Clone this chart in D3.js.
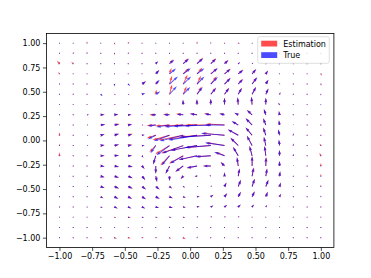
<!DOCTYPE html>
<html>
<head>
<meta charset="utf-8">
<script src="https://cdnjs.cloudflare.com/ajax/libs/d3/7.8.5/d3.min.js"></script>
<style>
body { margin: 0; background: #fff; }
text { font-family: "DejaVu Sans", sans-serif; }
</style>
</head>
<body>
<div id="plot"></div>
<script>
// grid coordinates (20 x 20)
var gridX = [-1.000,-0.895,-0.789,-0.684,-0.579,-0.474,-0.368,-0.263,-0.158,-0.053,0.053,0.158,0.263,0.368,0.474,0.579,0.684,0.789,0.895,1.000];
var gridY = [1.000,0.895,0.789,0.684,0.579,0.474,0.368,0.263,0.158,0.053,-0.053,-0.158,-0.263,-0.368,-0.474,-0.579,-0.684,-0.789,-0.895,-1.000];
var tickVals = [-1.00,-0.75,-0.50,-0.25,0.00,0.25,0.50,0.75,1.00];
var seriesNames = ["Estimation", "True"];

// True field, rows top (y=1) to bottom (y=-1)
var trueU = [
[0,0,0,0,0,0,0,0,0,0,0,0,0,0,0,0,0,0,0,0],
[0,0,0,0,0,0,0,0,0,0,0,0,0,0,0,0,0,0,0,0],
[0,0,0,0,0,0,0,.02,.038,.045,.048,.042,.03,.015,.01,0,0,0,0,0],
[0,0,0,0,0,0,.005,.028,.05,.058,.056,.054,.048,.04,.033,.018,.005,0,0,0],
[0,0,0,0,0,.015,.03,.03,.064,.06,.056,.054,.048,.038,.04,.02,.005,0,0,0],
[0,0,0,.015,.01,.01,.025,.035,.056,.054,.043,.041,.036,.028,.03,.02,.008,0,0,0],
[0,0,0,.005,.01,.01,.01,.01,.005,0,0,0,0,-.005,-.005,0,-.01,0,0,0],
[0,0,.015,.03,.03,.025,.005,-.04,-.045,-.05,-.055,-.05,-.04,-.03,-.04,-.015,-.005,0,0,0],
[0,0,.01,.035,.035,.03,.01,-.06,-.1,-.14,-.18,-.2,-.15,-.05,-.05,-.02,-.005,0,0,0],
[0,0,.01,.03,.035,.03,.02,-.06,-.12,-.18,-.22,-.24,-.18,-.08,-.05,-.02,-.01,0,0,0],
[0,0,.01,.03,.035,.03,.02,-.04,-.1,-.16,-.2,-.2,-.15,-.06,-.04,-.015,-.005,0,0,0],
[0,0,.005,.03,.035,.03,.01,-.02,-.06,-.1,-.14,-.12,-.08,-.04,-.02,-.01,0,0,0,0],
[0,0,.005,.03,.035,.035,.02,0,-.03,-.06,-.08,-.06,-.03,-.01,0,0,0,0,0,0],
[0,0,.005,.03,.035,.035,.025,.01,0,-.02,-.02,-.01,0,.01,.01,.01,.005,0,0,0],
[0,0,.01,.03,.035,.035,.03,.03,.02,.015,.01,.01,.015,.02,.02,.02,.01,0,0,0],
[0,0,.005,.02,.03,.03,.03,.03,.025,.02,.02,.02,.02,.02,.02,.015,.01,0,0,0],
[0,0,0,.015,.025,.025,.025,.025,.025,.02,.02,.02,.02,.02,.015,.01,.005,0,0,0],
[0,0,0,0,.01,.015,.015,.015,.015,.015,.01,.01,.01,.01,.005,0,0,0,0,0],
[0,0,0,0,0,0,0,0,0,0,0,0,0,0,0,0,0,0,0,0],
[0,0,0,0,0,0,0,0,0,0,0,0,0,0,0,0,0,0,0,0]
];
var trueV = [
[0,0,0,0,0,0,0,0,0,0,0,0,0,0,0,0,0,0,0,0],
[0,0,0,0,0,0,0,0,0,0,0,0,0,0,0,0,0,0,0,0],
[0,0,0,0,0,0,0,.025,.04,.05,.055,.05,.035,.015,.01,0,0,0,0,0],
[0,0,0,0,0,0,.005,.04,.055,.058,.058,.058,.05,.04,.05,.035,.005,0,0,0],
[0,0,0,0,-.025,-.02,.03,.045,.079,.079,.079,.072,.062,.05,.07,.045,.01,0,0,0],
[0,0,0,-.02,-.01,-.01,.01,.03,.082,.075,.075,.065,.065,.065,.075,.06,.02,0,0,0],
[0,0,0,-.005,-.005,-.005,0,.01,.02,.05,.055,.06,.07,.075,.08,.07,.02,0,0,0],
[0,0,0,0,.005,0,0,0,0,.005,.01,.01,.01,.02,.05,.06,.04,.005,0,0],
[0,0,0,.005,.01,.005,0,-.01,-.02,-.02,-.015,-.01,0,.04,.07,.07,.05,.01,0,0],
[0,0,0,.01,.015,.01,.005,-.04,-.06,-.06,-.05,-.02,.02,.06,.08,.08,.06,.02,0,0],
[0,0,0,.005,.01,.005,0,-.08,-.1,-.08,-.05,-.02,.03,.08,.1,.09,.06,.02,0,0],
[0,0,0,0,.005,0,-.02,-.09,-.1,-.08,-.04,-.01,.04,.09,.1,.1,.06,.02,0,0],
[0,0,0,-.005,-.01,-.01,-.03,-.08,-.08,-.06,-.02,0,.04,.09,.1,.09,.05,.01,0,0],
[0,0,0,-.01,-.015,-.02,-.04,-.06,-.05,-.03,0,.01,.04,.08,.09,.08,.05,0,0,0],
[0,0,-.005,-.015,-.02,-.02,-.03,-.03,-.02,-.01,0,.01,.04,.07,.08,.07,.04,0,0,0],
[0,0,-.005,-.015,-.02,-.02,-.025,-.02,-.015,-.01,0,.02,.035,.05,.055,.05,.03,0,0,0],
[0,0,0,-.01,-.015,-.015,-.015,-.01,-.01,-.005,.005,.015,.02,.025,.025,.02,.01,0,0,0],
[0,0,0,0,-.005,-.005,-.005,-.005,-.005,-.005,.01,.01,.01,.01,.005,0,0,0,0,0],
[0,0,0,0,0,0,0,0,0,0,0,0,0,0,0,0,0,0,0,0],
[0,0,0,0,0,0,0,0,0,0,0,0,0,0,0,0,0,0,0,0]
];

// Estimated field
var estU = [
[0,0,0,0,.005,.01,0,0,0,0,0,0,-.005,.015,.01,0,0,0,0,0],
[0,.01,0,0,0,.01,0,0,0,0,0,0,0,0,0,0,0,0,0,0],
[-.02,-.015,0,0,0,0,0,.015,.03,.04,.045,.04,.03,.015,.01,0,0,0,0,0],
[-.01,0,0,0,0,0,.005,.025,.015,.045,.04,.05,.045,.038,.03,.015,.005,0,0,.01],
[0,0,0,0,0,.01,.03,.02,.02,.033,.03,.045,.045,.035,.035,.02,.005,0,0,.005],
[0,0,0,.01,.01,.01,.02,.005,.02,.026,.035,.04,.035,.028,.03,.02,.008,0,0,0],
[0,0,0,.005,.01,.01,.01,.005,-.005,-.005,-.005,0,0,-.005,-.005,0,-.01,0,0,0],
[0,0,.015,.03,.03,.025,-.01,-.05,-.05,-.055,-.055,-.05,-.04,-.03,-.04,-.015,-.005,0,0,0],
[0,0,.01,.035,.04,.03,.01,-.07,-.11,-.15,-.18,-.19,-.14,-.05,-.05,-.02,-.005,0,0,0],
[0,0,.01,.03,.035,.035,.02,-.07,-.13,-.19,-.22,-.23,-.17,-.08,-.05,-.02,-.01,0,0,0],
[.005,0,.01,.03,.035,.03,.02,-.05,-.11,-.17,-.2,-.19,-.14,-.06,-.04,-.015,-.005,0,0,-.01],
[0,0,.005,.03,.035,.03,.01,-.02,-.07,-.11,-.14,-.11,-.07,-.04,-.02,-.01,0,0,0,-.01],
[0,0,.005,.03,.035,.035,.02,0,-.03,-.06,-.08,-.06,-.03,-.01,0,.005,0,0,0,0],
[0,0,.005,.03,.035,.035,.025,.01,0,-.02,-.02,-.01,0,.01,.015,.01,.005,0,0,0],
[0,0,.01,.03,.035,.035,.03,.03,.02,.015,.01,.01,.015,.02,.02,.02,.01,0,0,0],
[0,0,.005,.02,.03,.03,.03,.03,.025,.02,.02,.02,.02,.02,.02,.015,.01,0,0,0],
[0,0,.01,.015,.025,.025,.025,.025,.025,.02,.02,.02,.02,.02,.015,.01,.005,0,0,0],
[0,0,0,.01,.015,.02,.015,.015,.015,.015,.01,.01,.01,.01,.005,0,0,0,0,0],
[0,0,0,0,.01,.01,.01,0,0,0,0,0,0,0,0,0,0,0,0,0],
[0,0,0,.015,.02,.02,.015,.015,.015,.02,.005,0,0,0,0,0,0,0,0,0]
];
var estV = [
[0,0,.02,0,-.02,.015,0,0,0,0,.02,.015,0,0,0,0,0,0,0,0],
[0,.01,.02,0,-.02,.01,0,0,0,0,0,0,0,0,0,0,0,0,0,0],
[.03,.02,0,0,0,0,0,.025,.045,.055,.06,.055,.04,.015,.01,0,0,0,0,0],
[.02,0,0,0,0,0,.005,.04,.06,.06,.065,.06,.055,.045,.05,.035,.005,0,0,-.02],
[0,0,0,0,-.02,-.015,.03,.04,.085,.096,.085,.08,.065,.055,.07,.045,.01,0,0,-.02],
[0,0,0,-.015,-.01,-.01,.01,.05,.1,.082,.08,.07,.068,.068,.075,.06,.02,0,0,-.015],
[0,0,0,-.005,-.005,-.005,0,.01,.025,.05,.055,.06,.07,.075,.08,.07,.02,0,0,-.01],
[0,0,0,0,.005,0,0,0,.005,.01,.01,.015,.015,.02,.05,.06,.04,.005,0,0],
[.01,0,0,.005,.01,.01,0,-.005,-.01,-.01,-.005,0,.01,.04,.07,.07,.05,.01,0,0],
[.03,0,0,.01,.015,.015,.005,-.03,-.05,-.05,-.04,-.015,.02,.06,.08,.08,.06,.02,0,0],
[.02,0,0,.005,.01,.01,0,-.07,-.09,-.08,-.05,-.02,.03,.08,.1,.09,.06,.02,0,.02],
[.035,0,0,0,.005,0,-.02,-.09,-.1,-.08,-.04,-.01,.04,.09,.1,.1,.06,.02,0,.03],
[.015,0,0,-.005,-.01,-.01,-.03,-.08,-.08,-.06,-.02,0,.04,.09,.1,.09,.05,.01,0,.03],
[.01,0,0,-.01,-.015,-.02,-.04,-.06,-.05,-.03,0,.01,.04,.08,.09,.08,.05,0,0,.025],
[0,0,-.005,-.015,-.02,-.02,-.03,-.03,-.02,-.01,0,.01,.04,.07,.08,.07,.04,0,0,.02],
[0,0,-.005,-.015,-.02,-.02,-.025,-.02,-.015,-.01,0,.02,.035,.05,.055,.05,.03,0,0,.015],
[0,0,-.005,-.01,-.015,-.015,-.015,-.01,-.01,-.005,.005,.015,.02,.025,.025,.02,.01,0,0,0],
[0,0,0,-.005,-.01,-.01,-.005,-.005,-.005,-.005,.01,.01,.01,.01,.005,0,0,0,0,0],
[0,0,0,0,-.005,-.005,-.005,0,0,0,0,0,0,0,0,0,0,0,0,0],
[0,0,0,-.005,-.01,-.005,0,0,-.01,-.015,.015,0,0,0,0,0,0,0,0,0]
];

var W = 371, H = 278;
var margin = { left: 46.4, right: 37.1, top: 33.4, bottom: 30.6 };
var width = W - margin.left - margin.right, height = H - margin.top - margin.bottom;

var svg = d3.select("#plot").append("svg")
	.attr("width", W).attr("height", H);

var g = svg.append("g")
	.attr("transform", "translate(" + margin.left + "," + margin.top + ")");

var xScale = d3.scaleLinear().domain([-1.1, 1.1]).range([0, width]);
var yScale = d3.scaleLinear().domain([-1.1, 1.1]).range([height, 0]);

var colours = d3.scaleOrdinal().domain(seriesNames)
	.range(["rgba(255,0,0,0.7)", "rgba(0,0,255,0.7)"]);

// quiver arrow, matplotlib-like shape (pivot at tail)
var shaftW = 0.9;
function arrowPath(x0, y0, x1, y1) {
	var dx = x1 - x0, dy = y1 - y0;
	var L = Math.sqrt(dx * dx + dy * dy);
	if (L < shaftW) {
		// tiny vector: small hexagon dot
		var r = 0.55, p = [];
		for (var k = 0; k < 6; k++) {
			var a = Math.PI / 3 * k;
			p.push([x0 + r * Math.cos(a), y0 + r * Math.sin(a)]);
		}
		return "M" + p.join("L") + "Z";
	}
	var s = Math.min(1, L / (4.5 * shaftW));
	var ws = shaftW * s / 2, hw = 1.5 * shaftW * s, ha = 4.5 * shaftW * s, hl = 5 * shaftW * s;
	var ux = dx / L, uy = dy / L, nx = -uy, ny = ux;
	var pts = [[0, ws], [L - ha, ws], [L - hl, hw], [L, 0], [L - hl, -hw], [L - ha, -ws], [0, -ws]];
	return "M" + pts.map(function (q) {
		return [x0 + q[0] * ux + q[1] * nx, y0 + q[0] * uy + q[1] * ny];
	}).join("L") + "Z";
}

function drawField(name, U, V) {
	var cells = [];
	gridY.forEach(function (gy, j) {
		gridX.forEach(function (gx, i) {
			cells.push({ x: gx, y: gy, u: U[j][i], v: V[j][i] });
		});
	});
	g.append("g")
		.attr("fill", colours(name))
		.selectAll("path")
		.data(cells)
		.enter().append("path")
		.attr("d", function (d) {
			return arrowPath(xScale(d.x), yScale(d.y), xScale(d.x + d.u), yScale(d.y + d.v));
		});
}

drawField("Estimation", estU, estV);
drawField("True", trueU, trueV);

//axes
var fmt = d3.format(".2f");
var xAxis = g.append("g")
	.attr("transform", "translate(0," + height + ")")
	.call(d3.axisBottom(xScale).tickValues(tickVals).tickFormat(fmt).tickSizeOuter(0).tickSize(3.5).tickPadding(2.5));
var yAxis = g.append("g")
	.call(d3.axisLeft(yScale).tickValues(tickVals).tickFormat(fmt).tickSizeOuter(0).tickSize(3.5).tickPadding(2.5));
[xAxis, yAxis].forEach(function (a) {
	a.select(".domain").remove();
	a.selectAll("line").attr("stroke", "#000").attr("stroke-width", 0.7);
	a.selectAll("text").attr("font-size", "8px").attr("fill", "#000")
		.style("font-family", "'DejaVu Sans', sans-serif");
});

// frame
g.append("rect")
	.attr("x", 0).attr("y", 0).attr("width", width).attr("height", height)
	.attr("fill", "none").attr("stroke", "#000").attr("stroke-width", 0.8);

// legend
var leg = svg.append("g").attr("transform", "translate(257.7,36.7)");
leg.append("rect")
	.attr("width", 71.6).attr("height", 26.6).attr("rx", 2)
	.attr("fill", "rgba(255,255,255,0.8)").attr("stroke", "#d6d6d6").attr("stroke-width", 0.8);
seriesNames.forEach(function (name, i) {
	leg.append("rect")
		.attr("x", 3.5).attr("y", 4 + i * 11.5).attr("width", 16).attr("height", 5.8)
		.attr("fill", colours(name));
	leg.append("text")
		.attr("x", 25.6).attr("y", 9.9 + i * 11.5)
		.attr("font-size", "8px").attr("fill", "#000")
		.text(name);
});
</script>
</body>
</html>
